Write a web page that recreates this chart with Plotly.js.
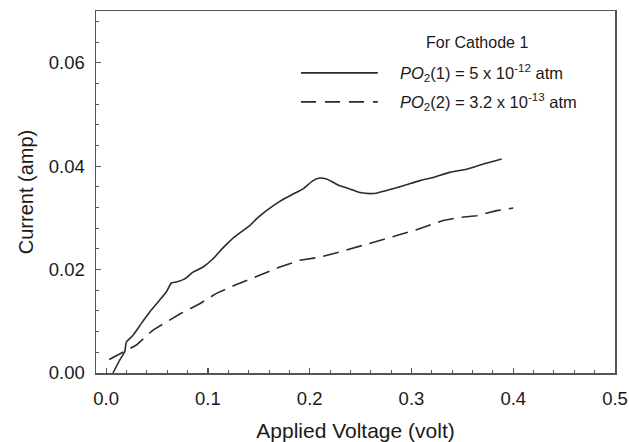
<!DOCTYPE html>
<html>
<head>
<meta charset="utf-8">
<script src="https://cdn.plot.ly/plotly-3.0.1.min.js"></script>
<style>
  html, body { margin: 0; padding: 0; background: #ffffff; }
  #chart { width: 629px; height: 442px; }
</style>
</head>
<body>
<div id="chart"></div>
<script>
// Series 1: PO2(1) = 5 x 10^-12 atm (solid)
const voltage1 = [0.0067, 0.0133, 0.0182, 0.0199, 0.0264, 0.0346, 0.0428, 0.0526, 0.0592, 0.0641,
  0.0690, 0.0772, 0.0853, 0.0952, 0.1050, 0.1148, 0.1247, 0.1411, 0.1477, 0.1575,
  0.1706, 0.1837, 0.1935, 0.2033, 0.2099, 0.2165, 0.2296, 0.2394, 0.2493, 0.2623,
  0.2755, 0.2918, 0.3083, 0.3213, 0.3377, 0.3542, 0.3722, 0.3886];
const current1 = [0.0000, 0.0025, 0.0041, 0.0060, 0.0073, 0.0096, 0.0118, 0.0141, 0.0157, 0.0174,
  0.0176, 0.0182, 0.0195, 0.0205, 0.0221, 0.0242, 0.0261, 0.0285, 0.0298, 0.0314,
  0.0332, 0.0346, 0.0356, 0.0372, 0.0377, 0.0375, 0.0362, 0.0356, 0.0349, 0.0347,
  0.0353, 0.0362, 0.0372, 0.0378, 0.0388, 0.0394, 0.0405, 0.0414];

// Series 2: PO2(2) = 3.2 x 10^-13 atm (dashed)
const voltage2 = [0.0030, 0.0165, 0.0297, 0.0460, 0.0592, 0.0723, 0.0919, 0.1084, 0.1280, 0.1509,
  0.1706, 0.1903, 0.2099, 0.2296, 0.2493, 0.2559, 0.2820, 0.3050, 0.3312, 0.3476,
  0.3640, 0.3837, 0.4000];
const current2 = [0.0026, 0.0041, 0.0054, 0.0083, 0.0099, 0.0114, 0.0134, 0.0154, 0.0171, 0.0189,
  0.0205, 0.0218, 0.0224, 0.0234, 0.0245, 0.0249, 0.0263, 0.0277, 0.0295, 0.0301,
  0.0304, 0.0314, 0.0319];

const seriesNames = [
  "<i>PO</i><sub>2</sub>(1) = 5 x 10<sup>-12</sup> atm",
  "<i>PO</i><sub>2</sub>(2) = 3.2 x 10<sup>-13</sup> atm"
];
const legendTitle = "For Cathode 1";
const xTitle = "Applied Voltage (volt)";
const yTitle = "Current (amp)";

const FONT = "Liberation Sans, Arial, sans-serif";
const INK = "#2b2b2b";
const AXIS = "#555555";

const traces = [
  { x: voltage1, y: current1, type: "scatter", mode: "lines", name: seriesNames[0],
    line: { color: INK, width: 1.6, shape: "spline", smoothing: 0.6 }, showlegend: false },
  { x: voltage2, y: current2, type: "scatter", mode: "lines", name: seriesNames[1],
    line: { color: INK, width: 1.6, dash: "16px,8px" }, showlegend: false }
];

const layout = {
  width: 629, height: 442,
  margin: { l: 96, r: 14, t: 11, b: 69 },
  paper_bgcolor: "#ffffff", plot_bgcolor: "#ffffff",
  font: { family: FONT, color: "#1a1a1a", size: 18 },
  xaxis: {
    range: [-0.01, 0.5], tick0: 0, dtick: 0.1, tickformat: ".1f",
    ticks: "inside", ticklen: 5, tickwidth: 1.2, tickcolor: AXIS,
    minor: { ticks: "inside", tick0: 0, dtick: 0.02, ticklen: 3, tickwidth: 1, tickcolor: AXIS },
    showline: true, linecolor: AXIS, linewidth: 1.5, mirror: true,
    showgrid: false, zeroline: false,
    tickfont: { family: FONT, size: 18.5, color: "#1a1a1a" },
    ticklabelstandoff: 8,
    title: { text: xTitle, font: { family: FONT, size: 21, color: "#1a1a1a" }, standoff: 15 }
  },
  yaxis: {
    range: [0, 0.07], tick0: 0, dtick: 0.02, tickformat: ".2f",
    ticks: "inside", ticklen: 5, tickwidth: 1.2, tickcolor: AXIS,
    minor: { ticks: "inside", tick0: 0, dtick: 0.004, ticklen: 3, tickwidth: 1, tickcolor: AXIS },
    showline: true, linecolor: AXIS, linewidth: 1.5, mirror: true,
    showgrid: false, zeroline: false,
    tickfont: { family: FONT, size: 18.5, color: "#1a1a1a" },
    ticklabelstandoff: 6,
    title: { text: yTitle, font: { family: FONT, size: 20, color: "#1a1a1a" }, standoff: 10 }
  },
  showlegend: false,
  shapes: [
    { type: "line", xref: "paper", yref: "paper", x0: 0.395, x1: 0.543, y0: 0.829, y1: 0.829,
      line: { color: INK, width: 1.6 } },
    { type: "line", xref: "paper", yref: "paper", x0: 0.395, x1: 0.543, y0: 0.749, y1: 0.749,
      line: { color: INK, width: 1.6, dash: "15px,9px" } }
  ],
  annotations: [
    { text: legendTitle, xref: "paper", yref: "paper", x: 0.734, y: 0.914,
      xanchor: "center", yanchor: "middle", showarrow: false,
      font: { family: FONT, size: 16, color: "#1a1a1a" } },
    { text: seriesNames[0], xref: "paper", yref: "paper", x: 0.582, y: 0.829,
      xanchor: "left", yanchor: "middle", showarrow: false,
      font: { family: FONT, size: 16.5, color: "#1a1a1a" } },
    { text: seriesNames[1], xref: "paper", yref: "paper", x: 0.582, y: 0.749,
      xanchor: "left", yanchor: "middle", showarrow: false,
      font: { family: FONT, size: 16.5, color: "#1a1a1a" } }
  ]
};

Plotly.newPlot("chart", traces, layout, { staticPlot: true, displayModeBar: false });
</script>
</body>
</html>
